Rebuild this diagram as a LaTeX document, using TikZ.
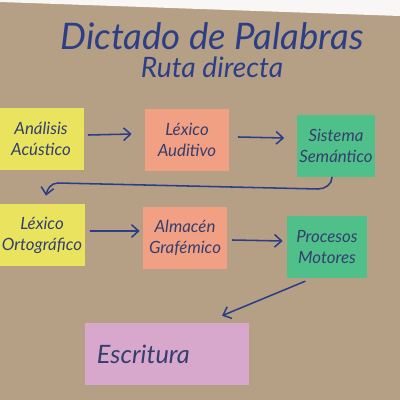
\documentclass[tikz,border=0pt]{standalone}
\usepackage{fontspec}
\setmainfont{Lato}
\usepackage{xcolor}
\usetikzlibrary{arrows.meta}

\definecolor{kraft}{HTML}{B5A086}
\definecolor{ink}{HTML}{2C3F86}
\definecolor{pen}{HTML}{343F6E}
\definecolor{notey}{HTML}{E9E35E}
\definecolor{notes}{HTML}{F2A083}
\definecolor{noteg}{HTML}{4FC08A}
\definecolor{notep}{HTML}{D8A8CC}

\tikzset{
    note/.style={minimum width=2.1cm, minimum height=1.55cm, align=center,
        text=pen, font=\itshape\fontsize{12}{15}\selectfont, inner sep=2pt},
    conn/.style={draw=ink, line width=1.1pt, line cap=round,
        -{Straight Barb[length=5pt,width=9pt]}}
}

\begin{document}
\begin{tikzpicture}[x=0.025cm, y=-0.025cm]
    % paper and wall
    \fill[kraft] (0,0) rectangle (400,400);
    \useasboundingbox (0,0) rectangle (400,400);
    \fill[white!92!kraft] (0,0) -- (400,0) -- (400,16) -- (0,2) -- cycle;

    % Title
    \node[text=ink, inner sep=0pt, font=\itshape\fontsize{26}{28}\selectfont] (title) at (212,36) {Dictado de Palabras};
    \node[text=ink, inner sep=0pt, font=\itshape\fontsize{20}{22}\selectfont] (sub) at (212,67) {Ruta directa};

    % First row
    \node[note, fill=notey, minimum width=2.15cm] (aa) at (41,139) {Análisis\\Acústico};
    \node[note, fill=notes] (la) at (187,140) {Léxico\\Auditivo};
    \node[note, fill=noteg, minimum width=1.95cm] (ss) at (336,146) {Sistema\\Semántico};

    % Second row
    \node[note, fill=notey, minimum width=2.15cm] (lo) at (42,235) {Léxico\\Ortográfico};
    \node[note, fill=notes] (ag) at (185,238) {Almacén\\Grafémico};
    \node[note, fill=noteg, minimum width=2cm] (pm) at (327,247) {Procesos\\Motores};

    % Output
    \node[note, fill=notep, minimum width=4.12cm, text width=3.5cm, align=left,
        font=\itshape\fontsize{18}{20}\selectfont] (es) at (167,354) {Escritura};

    % Arrows
    \draw[conn] ([shift={(4,-4)}]aa.east) -- ([shift={(-13,-6)}]la.west);
    \draw[conn] ([shift={(9,-3)}]la.east) -- ([shift={(-12,-8)}]ss.west);
    \draw[conn] ([shift={(-4,0)}]ss.south) to[out=-90,in=0] (318,189)
        -- (58,183) to[out=180,in=80] ([shift={(4,-8)}]lo.north);
    \draw[conn] ([shift={(5,-4)}]lo.east) -- ([shift={(-3,-7)}]ag.west);
    \draw[conn] ([shift={(5,2)}]ag.east) -- ([shift={(-4,-6)}]pm.west);
    \draw[conn] ([shift={(-22,3)}]pm.south) -- ([shift={(55,-7)}]es.north);
\end{tikzpicture}
\end{document}
